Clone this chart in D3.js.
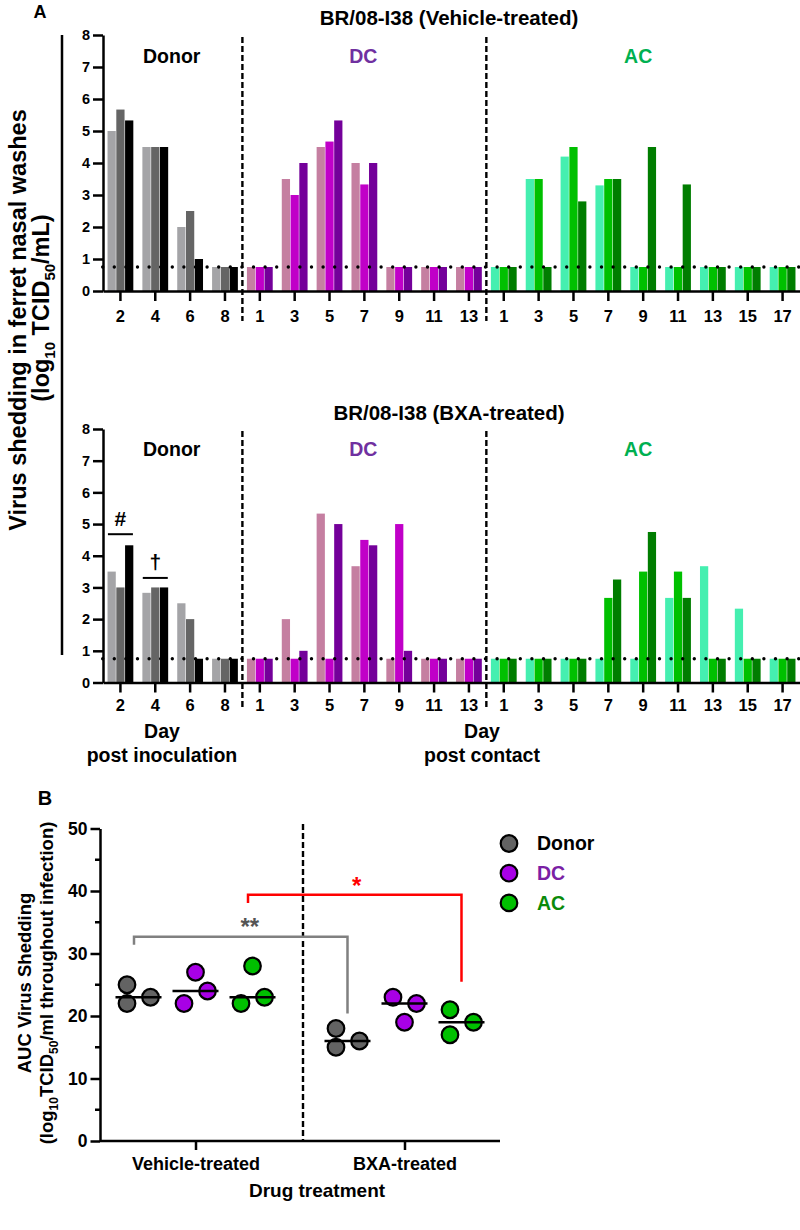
<!DOCTYPE html>
<html><head><meta charset="utf-8">
<script src="https://cdn.jsdelivr.net/npm/d3@7"></script>
<style>
body{margin:0;background:#fff;}
svg{display:block;font-family:'Liberation Sans',Arial,sans-serif;font-weight:bold;}
</style></head><body>
<svg id="chart" width="800" height="1230"></svg>
<script>
// ---------------- DATA ----------------
const donorDays = ["2","4","6","8"];
const dcDays = ["1","3","5","7","9","11","13"];
const acDays = ["1","3","5","7","9","11","13","15","17"];
const ferrets = ["F1","F2","F3"];
const yTicksA = [0,1,2,3,4,5,6,7,8];
const lod = 0.75;

// Vehicle-treated (log10 TCID50/mL), one triple per day
const vehDonor = [[5.0,5.67,5.33],[4.5,4.5,4.5],[2.0,2.5,1.0],[0.75,0.75,0.75]];
const vehDC = [[0.75,0.75,0.75],[3.5,3.0,4.0],[4.5,4.67,5.33],[4.0,3.33,4.0],[0.75,0.75,0.75],[0.75,0.75,0.75],[0.75,0.75,0.75]];
const vehAC = [[0.75,0.75,0.75],[3.5,3.5,0.75],[4.2,4.5,2.8],[3.3,3.5,3.5],[0.75,0.75,4.5],[0.75,0.75,3.33],[0.75,0.75,0.75],[0.75,0.75,0.75],[0.75,0.75,0.75]];
// BXA-treated
const bxaDonor = [[3.5,3.0,4.33],[2.83,3.0,3.0],[2.5,2.0,0.75],[0.75,0.75,0.75]];
const bxaDC = [[0.75,0.75,0.75],[2.0,0.75,1.0],[5.33,0.75,5.0],[3.67,4.5,4.33],[0.75,5.0,1.0],[0.75,0.75,0.75],[0.75,0.75,0.75]];
const bxaAC = [[0.75,0.75,0.75],[0.75,0.75,0.75],[0.75,0.75,0.75],[0.75,2.67,3.25],[0.75,3.5,4.75],[2.67,3.5,2.67],[3.67,0.75,0.75],[2.33,0.75,0.75],[0.75,0.75,0.75]];
const bxaMarks = [{day:"D2", symbol:"#", value:4.68},{day:"D4", symbol:"\u2020", value:3.3}];

const donorColors = ["#a4a4a7","#656565","#000000"];
const dcColors = ["#c57fa1","#c000c8","#74009a"];
const acColors = ["#45efb0","#00c000","#007d00"];

// Panel B: AUC
const treatments = ["Vehicle-treated","BXA-treated"];
const groupNames = ["Donor","DC","AC"];
const aucVehDonor = [25,22,23];
const aucVehDC = [27,22,24];
const aucVehAC = [28,22,23];
const aucBxaDonor = [18,15,16];
const aucBxaDC = [23,19,22];
const aucBxaAC = [21,17,19];
const yTicksB = [0,10,20,30,40,50];
const yMinorB = [5,15,25,35,45];
const groupFill = {Donor:"#636363", DC:"#a800e6", AC:"#00c000"};
const legendText = {Donor:"#000000", DC:"#7a20a4", AC:"#0a8a0a"};
const sigBrackets = [
  {from:["Vehicle-treated","Donor"], to:["BXA-treated","Donor"], top:32.7, left:31.4, right:20.4, label:"**", color:"#808080", textColor:"#555555"},
  {from:["Vehicle-treated","AC"], to:["BXA-treated","AC"], top:39.4, left:38.1, right:25.5, label:"*", color:"#ff0000", textColor:"#ff0000"}
];

// ---------------- DRAW ----------------
const svg = d3.select("#chart");
const FONT = "'Liberation Sans',Arial,sans-serif";

// ---- Panel A ----
const cats = [...donorDays.map(d=>"D"+d), ...dcDays.map(d=>"DC"+d), ...acDays.map(d=>"AC"+d)];
const x = d3.scaleBand().domain(cats).range([103,800]).paddingInner(0.26).paddingOuter(0.13);
const xi = d3.scaleBand().domain(ferrets).range([0,x.bandwidth()]).paddingInner(0.06);
const labelOf = c => c.replace(/^(DC|AC|D)/,"");
const boundary = c => x(c) - x.step()*x.paddingInner()/2;

function drawPanel(opt){
  const y = d3.scaleLinear().domain([0,8]).range([opt.bottom, opt.top]);
  const g = svg.append("g");
  g.append("text").attr("x",449).attr("y",opt.titleY).attr("dy","0.35em")
    .attr("text-anchor","middle").attr("font-size",20.5).text(opt.title);

  opt.groups.forEach(gr=>{
    gr.values.forEach((vals,i)=>{
      const key = gr.prefix + gr.days[i];
      vals.forEach((v,j)=>{
        g.append("rect")
          .attr("x", x(key)+xi(ferrets[j]))
          .attr("width", xi.bandwidth())
          .attr("y", y(v))
          .attr("height", y(0)-y(v))
          .attr("fill", gr.colors[j]);
      });
    });
    const first = gr.prefix+gr.days[0], last = gr.prefix+gr.days[gr.days.length-1];
    g.append("text").attr("x",(x(first)+x(last)+x.bandwidth())/2 + gr.labelShift)
      .attr("y", y(7.35)).attr("dy","0.35em").attr("text-anchor","middle")
      .attr("font-size",19.5).attr("fill",gr.labelColor).text(gr.label);
  });

  g.append("line").attr("x1",102.7).attr("x2",800).attr("y1",y(lod)).attr("y2",y(lod))
    .attr("stroke","#000").attr("stroke-width",3.4).attr("stroke-linecap","round")
    .attr("stroke-dasharray","0 11.6");

  ["DC1","AC1"].forEach(c=>{
    g.append("line").attr("x1",boundary(c)).attr("x2",boundary(c))
      .attr("y1",opt.top+2).attr("y2",opt.sepEnd)
      .attr("stroke","#000").attr("stroke-width",2.4).attr("stroke-dasharray","6 3");
  });

  const ya = g.append("g").attr("transform","translate(103,0)")
    .call(d3.axisLeft(y).tickValues(yTicksA).tickSize(10).tickSizeOuter(0).tickPadding(3));
  ya.selectAll("text").attr("font-size",14.5).attr("font-weight","bold").attr("font-family",FONT);
  const xa = g.append("g").attr("transform",`translate(0,${opt.bottom})`)
    .call(d3.axisBottom(x).tickSize(10).tickSizeOuter(0).tickPadding(opt.tickPad).tickFormat(labelOf));
  xa.selectAll("text").attr("font-size",16.5).attr("font-weight","bold").attr("font-family",FONT);
  [ya,xa].forEach(a=>{a.selectAll("path,line").attr("stroke","#000").attr("stroke-width",2.5);});

  (opt.marks||[]).forEach(m=>{
    const cx = x(m.day)+x.bandwidth()/2;
    g.append("line").attr("x1",cx-12.5).attr("x2",cx+12.5).attr("y1",y(m.value)).attr("y2",y(m.value))
      .attr("stroke","#000").attr("stroke-width",2);
    g.append("text").attr("x",cx).attr("y",y(m.value)-16).attr("dy","0.35em").attr("text-anchor","middle")
      .attr("font-size",21).text(m.symbol);
  });
  return y;
}

drawPanel({top:35, bottom:291, title:"BR/08-I38 (Vehicle-treated)", titleY:18, sepEnd:321, tickPad:9,
  groups:[
    {prefix:"D", days:donorDays, values:vehDonor, colors:donorColors, label:"Donor", labelColor:"#000", labelShift:-1},
    {prefix:"DC", days:dcDays, values:vehDC, colors:dcColors, label:"DC", labelColor:"#7030a0", labelShift:-1},
    {prefix:"AC", days:acDays, values:vehAC, colors:acColors, label:"AC", labelColor:"#00b050", labelShift:-5}
  ]});
drawPanel({top:429, bottom:682.5, title:"BR/08-I38 (BXA-treated)", titleY:413, sepEnd:710, tickPad:7,
  marks:bxaMarks,
  groups:[
    {prefix:"D", days:donorDays, values:bxaDonor, colors:donorColors, label:"Donor", labelColor:"#000", labelShift:-1},
    {prefix:"DC", days:dcDays, values:bxaDC, colors:dcColors, label:"DC", labelColor:"#7030a0", labelShift:-1},
    {prefix:"AC", days:acDays, values:bxaAC, colors:acColors, label:"AC", labelColor:"#00b050", labelShift:-5}
  ]});

svg.append("text").attr("x",40).attr("y",12).attr("dy","0.35em").attr("text-anchor","middle").attr("font-size",18).text("A");
svg.append("line").attr("x1",62).attr("x2",62).attr("y1",35).attr("y2",655).attr("stroke","#000").attr("stroke-width",2.5);
const yl = svg.append("g").attr("transform","translate(18,320) rotate(-90)");
yl.append("text").attr("text-anchor","middle").attr("dy","0.35em").attr("font-size",23.5).text("Virus shedding in ferret nasal washes");
const yl2 = svg.append("g").attr("transform","translate(41,308) rotate(-90)");
const t2 = yl2.append("text").attr("text-anchor","middle").attr("dy","0.35em").attr("font-size",23.5);
t2.append("tspan").text("(log");
t2.append("tspan").attr("font-size",15).attr("dy","6").text("10");
t2.append("tspan").attr("dy","-6").text(" TCID");
t2.append("tspan").attr("font-size",15).attr("dy","6").text("50");
t2.append("tspan").attr("dy","-6").text("/mL)");

[["Day",162,731],["post inoculation",162,755],["Day",482,731],["post contact",482,755]].forEach(d=>{
  svg.append("text").attr("x",d[1]).attr("y",d[2]).attr("dy","0.35em").attr("text-anchor","middle").attr("font-size",19.5).text(d[0]);
});

// ---- Panel B ----
const yB = d3.scaleLinear().domain([0,50]).range([1141,828.5]);
const xB = d3.scalePoint().domain(treatments).range([100,500]).padding(0.457);
const xG = d3.scalePoint().domain(groupNames).range([-57,57]);
const colX = (t,gname) => xB(t)+xG(gname);
const gB = svg.append("g");

svg.append("text").attr("x",45).attr("y",798).attr("dy","0.35em").attr("text-anchor","middle").attr("font-size",20).text("B");

const sepX = (xB(treatments[0])+xB(treatments[1]))/2 + 3;
gB.append("line").attr("x1",sepX).attr("x2",sepX).attr("y1",824).attr("y2",1141)
  .attr("stroke","#000").attr("stroke-width",2.4).attr("stroke-dasharray","6 3");

const yaB = gB.append("g").attr("transform","translate(100,0)")
  .call(d3.axisLeft(yB).tickValues(yTicksB).tickSize(9.5).tickSizeOuter(0).tickPadding(3));
yaB.selectAll("text").attr("font-size",17.5).attr("font-weight","bold").attr("font-family",FONT);
yMinorB.forEach(v=>{
  gB.append("line").attr("x1",95).attr("x2",100).attr("y1",yB(v)).attr("y2",yB(v)).attr("stroke","#000").attr("stroke-width",2.5);
});
const xaB = gB.append("g").attr("transform","translate(0,1141)")
  .call(d3.axisBottom(xB).tickSize(9).tickSizeOuter(0).tickPadding(7));
xaB.select(".domain").attr("d","M100,0H500");
xaB.selectAll("text").attr("font-size",18).attr("font-weight","bold").attr("font-family",FONT);
[yaB,xaB].forEach(a=>{a.selectAll("path,line").attr("stroke","#000").attr("stroke-width",2.5);});
gB.append("text").attr("x",317).attr("y",1190).attr("dy","0.35em").attr("text-anchor","middle").attr("font-size",19).text("Drug treatment");

const ylB = svg.append("g").attr("transform","translate(25,983) rotate(-90)");
ylB.append("text").attr("text-anchor","middle").attr("dy","0.35em").attr("font-size",18.5).text("AUC Virus Shedding");
const ylB2 = svg.append("g").attr("transform","translate(47,983) rotate(-90)");
const tb = ylB2.append("text").attr("text-anchor","middle").attr("dy","0.35em").attr("font-size",18.5);
tb.append("tspan").text("(log");
tb.append("tspan").attr("font-size",12).attr("dy","5").text("10");
tb.append("tspan").attr("dy","-5").text("TCID");
tb.append("tspan").attr("font-size",12).attr("dy","5").text("50");
tb.append("tspan").attr("dy","-5").text("/ml throughout infection)");

sigBrackets.forEach(b=>{
  const x1 = colX(b.from[0],b.from[1]) - 4.5, x2 = colX(b.to[0],b.to[1]);
  gB.append("path").attr("d", d3.line()([[x1,yB(b.left)],[x1,yB(b.top)],[x2,yB(b.top)],[x2,yB(b.right)]]))
    .attr("fill","none").attr("stroke",b.color).attr("stroke-width",2.5);
  gB.append("text").attr("x",(x1+x2)/2 + (b.label.length>1 ? 9 : 2)).attr("y",yB(b.top)-12).attr("dy","0.45em").attr("text-anchor","middle")
    .attr("font-size",24).attr("fill",b.textColor).text(b.label);
});

const aucSets = [
  ["Vehicle-treated","Donor",aucVehDonor],["Vehicle-treated","DC",aucVehDC],["Vehicle-treated","AC",aucVehAC],
  ["BXA-treated","Donor",aucBxaDonor],["BXA-treated","DC",aucBxaDC],["BXA-treated","AC",aucBxaAC]
];
const R = 8.3;
aucSets.forEach(([t,gname,vals])=>{
  const cx = colX(t,gname);
  const med = d3.median(vals);
  const placed = [];
  const mi = vals.indexOf(med);
  placed.push({v:med, dx:12});
  vals.forEach((v,i)=>{
    if(i===mi) return;
    const py = yB(v);
    const hit = dx => placed.some(p=>Math.hypot(p.dx-dx, yB(p.v)-py) < 18);
    placed.push({v, dx: hit(0) ? -11.5 : 0});
  });
  placed.forEach(p=>{
    gB.append("circle").attr("cx",cx+p.dx).attr("cy",yB(p.v)).attr("r",R)
      .attr("fill",groupFill[gname]).attr("stroke","#000").attr("stroke-width",2.2);
  });
  gB.append("line").attr("x1",cx-23).attr("x2",cx+23).attr("y1",yB(med)).attr("y2",yB(med))
    .attr("stroke","#000").attr("stroke-width",2.5);
});

groupNames.forEach((gname,i)=>{
  const ly = 843.5 + i*29.7;
  gB.append("circle").attr("cx",509).attr("cy",ly).attr("r",R).attr("fill",groupFill[gname]).attr("stroke","#000").attr("stroke-width",2.2);
  gB.append("text").attr("x",537).attr("y",ly).attr("dy","0.35em").attr("font-size",19.5).attr("fill",legendText[gname]).text(gname);
});
</script>
</body></html>
